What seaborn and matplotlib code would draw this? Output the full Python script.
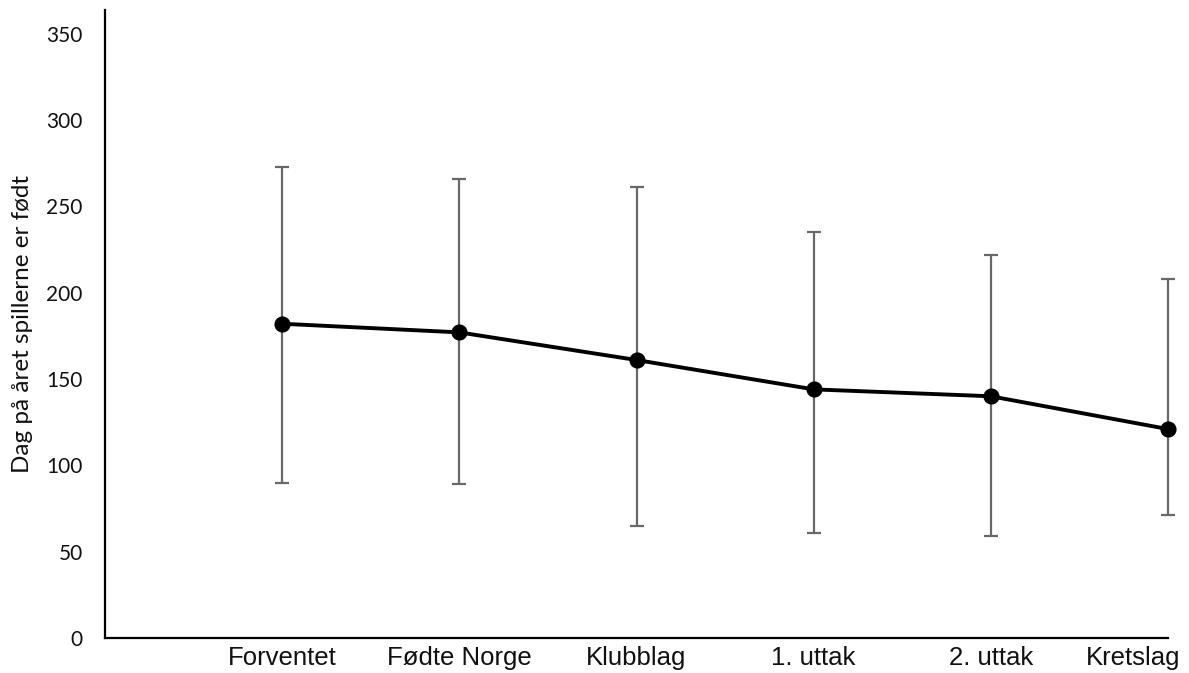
import matplotlib

matplotlib.use("Agg")
import matplotlib.pyplot as plt
import numpy as np
import pandas as pd
import seaborn as sns

# Values
grupper = ["Forventet", "Fødte Norge", "Klubblag", "1. uttak", "2. uttak", "Kretslag"]
snitt = [182, 177, 161, 144, 140, 121]
ovre = [273, 266, 261, 235, 222, 208]
nedre = [90, 89, 65, 61, 59, 71]
y_ticks = [0, 50, 100, 150, 200, 250, 300, 350]

df = pd.DataFrame({"gruppe": grupper, "snitt": snitt, "ovre": ovre, "nedre": nedre})

sns.set_theme(style="white")
plt.rcParams["font.family"] = ["Lato", "DejaVu Sans"]

fig, ax = plt.subplots(figsize=(11.89, 6.73), dpi=100)
fig.subplots_adjust(left=105 / 1189, right=1168 / 1189, bottom=1 - 638 / 673, top=1 - 9.5 / 673)

pos = np.arange(len(df))
yerr = np.vstack([df["snitt"] - df["nedre"], df["ovre"] - df["snitt"]])
ax.errorbar(pos, df["snitt"], yerr=yerr, fmt="none", ecolor="#686868",
            elinewidth=1.6, capsize=5, capthick=1.6, zorder=1)

sns.pointplot(data=df, x="gruppe", y="snitt", color="black", errorbar=None,
              markers="o", markersize=9.5, linewidth=2.8, ax=ax, zorder=3)
for art in ax.collections + ax.lines:
    art.set_clip_on(False)

ax.set_xlim(-1, 5)
ax.set_ylim(0, 364)
ax.set_yticks(y_ticks)
ax.set_yticklabels([str(t) for t in y_ticks], fontsize=15, color="#111111")
ax.set_xlabel("")
ax.set_ylabel("Dag på året spillerne er født", fontsize=17.5, color="#111111")
ax.yaxis.set_label_coords(-72 / 1063, 0.5)

# last category label sits inside the figure, right-aligned just past the axis end
x_font = ["Liberation Sans", "DejaVu Sans"]
ax.set_xticks(pos, grupper[:-1] + [""])
for lbl in ax.get_xticklabels():
    lbl.set_fontfamily(x_font)
    lbl.set_fontsize(18.5)
    lbl.set_color("#111111")
ax.annotate(grupper[-1], xy=(pos[-1], 0), xycoords=ax.get_xaxis_transform(),
            xytext=(9, -5.5), textcoords="offset points", ha="right", va="top",
            fontsize=18.5, family=x_font, color="#111111", annotation_clip=False)

ax.tick_params(axis="both", length=0)
ax.tick_params(axis="x", pad=5.5)
ax.tick_params(axis="y", pad=16)
for side in ["top", "right"]:
    ax.spines[side].set_visible(False)
for side in ["left", "bottom"]:
    ax.spines[side].set_color("black")
    ax.spines[side].set_linewidth(1.6)

fig.savefig("out.png", dpi=100)
